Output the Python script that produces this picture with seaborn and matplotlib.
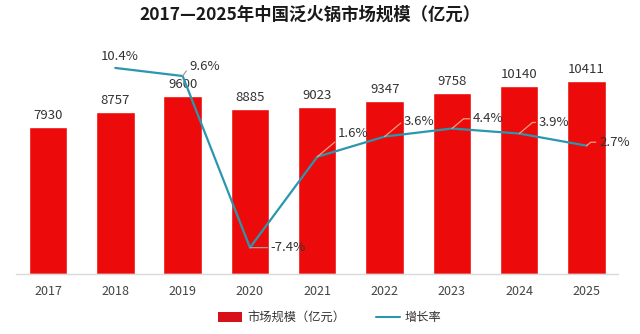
import numpy as np
import pandas as pd
import matplotlib
matplotlib.use("Agg")
import matplotlib.pyplot as plt
from matplotlib.patches import Patch
from matplotlib.lines import Line2D
import seaborn as sns

years = ["2017", "2018", "2019", "2020", "2021", "2022", "2023", "2024", "2025"]
market_size = [7930, 8757, 9600, 8885, 9023, 9347, 9758, 10140, 10411]
growth_years = ["2018", "2019", "2020", "2021", "2022", "2023", "2024", "2025"]
growth_rate = [10.4, 9.6, -7.4, 1.6, 3.6, 4.4, 3.9, 2.7]

title = "2017—2025年中国泛火锅市场规模（亿元）"
bar_name = "市场规模（亿元）"
line_name = "增长率"

sns.set_theme(style="white")
plt.rcParams["font.family"] = ["Noto Sans CJK SC", "DejaVu Sans"]

BAR_C = "#EC0A0A"
LINE_C = "#2A97AE"
TXT_C = "#333333"

df_bar = pd.DataFrame({"year": years, "size": market_size})
pos_map = {y: i for i, y in enumerate(years)}
df_line = pd.DataFrame({"pos": [pos_map[y] for y in growth_years], "rate": growth_rate})

fig = plt.figure(figsize=(6.4, 3.34), dpi=100)
ax = fig.add_axes([0.025, 0.18, 0.94, 0.70])

sns.barplot(data=df_bar, x="year", y="size", color=BAR_C, width=0.57,
            saturation=1, ax=ax)
ax.set_ylim(0, 12620)
for i, v in enumerate(market_size):
    ax.annotate(str(v), (i, v), xytext=(0, 3.5), textcoords="offset points",
                ha="center", va="bottom", fontsize=9.5, color=TXT_C)

ax.set_xlabel("")
ax.set_ylabel("")
ax.set_yticks([])
ax.tick_params(axis="x", length=0, labelsize=9, labelcolor="#444444", pad=8)
for s in ["top", "left", "right"]:
    ax.spines[s].set_visible(False)
ax.spines["bottom"].set_color("#D9D9D9")
ax.spines["bottom"].set_linewidth(1)

ax2 = ax.twinx()
sns.lineplot(data=df_line, x="pos", y="rate", color=LINE_C, linewidth=1.6, ax=ax2)
ax2.set_ylim(-10, 13.16)
ax2.set_yticks([])
ax2.set_ylabel("")
ax2.set_xlabel("")
for s in ["top", "left", "right", "bottom"]:
    ax2.spines[s].set_visible(False)
ax.set_xlim(-0.475, 8.46)

# percentage labels: (dx, dy) offsets in points, leader colour
offsets = [(3.5, 8.5, None), (5, 7, "#A0A0A0"), (15, 0, "#A0A0A0"), (15, 17, "#F4A080"),
           (14, 11, "#F4A080"), (15, 7, "#F4A080"), (14, 8, "#F4A080"), (9, 2.5, "#F4A080")]
for (yr, r), (dx, dy, lc) in zip(zip(growth_years, growth_rate), offsets):
    p = pos_map[yr]
    kw = dict(xy=(p, r), xytext=(dx, dy), textcoords="offset points",
              fontsize=9.5, color=TXT_C, va="center",
              ha="center" if lc is None else "left")
    if lc is not None:
        if dy > 0.5 and lc != "#A0A0A0":
            cs = "angle,angleA=180,angleB=40,rad=0"
        else:
            cs = "arc3"
        kw["arrowprops"] = dict(arrowstyle="-", color=lc, lw=0.9,
                                shrinkA=0, shrinkB=0, relpos=(0, 0.5),
                                connectionstyle=cs)
    ax2.annotate(f"{r:.1f}%", **kw)

fig.text(0.484, 0.955, title, ha="center", va="center", fontsize=12.5,
         fontweight="bold", color="#1A1A1A")

handles = [Patch(facecolor="#D8101A", edgecolor="none"),
           Line2D([0], [0], color=LINE_C, lw=1.5)]
fig.legend(handles, [bar_name, line_name], loc="center", bbox_to_anchor=(0.515, 0.048),
           ncol=2, frameon=False, fontsize=8.8, handlelength=2.0, handleheight=0.9,
           columnspacing=2.5, handletextpad=0.4, labelcolor="#333333")

fig.savefig("out.png", dpi=100, facecolor="white")
